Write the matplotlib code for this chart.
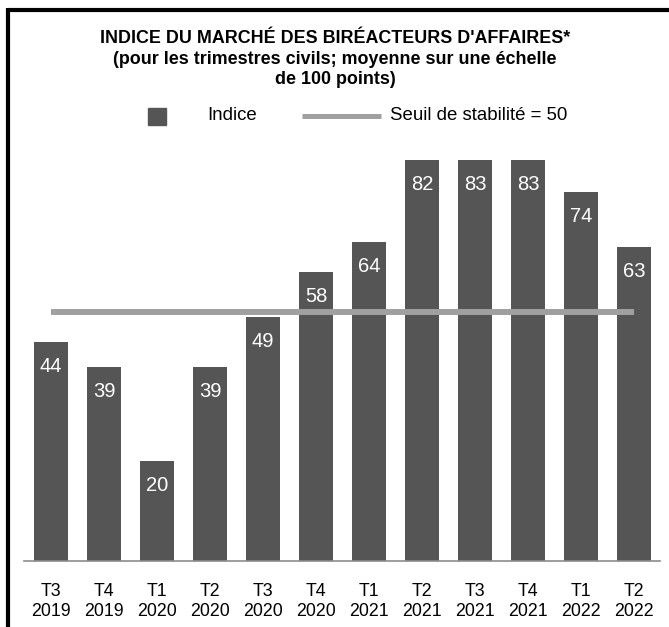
import matplotlib
matplotlib.use("Agg")
import matplotlib.pyplot as plt
from matplotlib.lines import Line2D
from matplotlib.patches import Rectangle

plt.rcParams["font.family"] = ["Liberation Sans", "DejaVu Sans"]

quarters = ["T3", "T4", "T1", "T2", "T3", "T4", "T1", "T2", "T3", "T4", "T1", "T2"]
years = ["2019", "2019", "2020", "2020", "2020", "2020", "2021", "2021", "2021", "2021", "2022", "2022"]
indice = [44, 39, 20, 39, 49, 58, 64, 82, 83, 83, 74, 63]
seuil = 50

W, H = 669, 627
BAR = "#555555"
LINE = "#a0a0a0"

fig = plt.figure(figsize=(W / 100, H / 100), dpi=100)


def px(x, y):
    # pixel (from top-left) -> figure fraction
    return x / W, 1 - y / H


ax = fig.add_axes([24 / W, 66 / H, 636 / W, 401 / H])
x = list(range(len(indice)))
ymax = 80.5
ax.bar(x, indice, width=0.64, color=BAR, zorder=2)
ax.plot([x[0], x[-1]], [seuil, seuil], color=LINE, lw=4.3,
        solid_capstyle="butt", zorder=3)
ax.set_xlim(-0.51, 11.49)
ax.set_ylim(0, ymax)

for xi, v in zip(x, indice):
    ax.annotate(str(v), (xi, min(v, ymax)), xytext=(0, -17.5),
                textcoords="offset points", ha="center", va="center",
                color="white", fontsize=14.5, zorder=4)

ax.set_xticks(x)
ax.set_xticklabels([f"{q}\n{y}" for q, y in zip(quarters, years)],
                   fontsize=12.8, linespacing=1.25)
ax.tick_params(axis="x", length=0, pad=16)
ax.set_yticks([])
for s in ["top", "left", "right"]:
    ax.spines[s].set_visible(False)
ax.spines["bottom"].set_color("#8c8c8c")
ax.spines["bottom"].set_linewidth(1.2)

# title
tx, ty = px(335, 59)
fig.text(tx, ty, "INDICE DU MARCHÉ DES BIRÉACTEURS D'AFFAIRES*\n"
         "(pour les trimestres civils; moyenne sur une échelle\n"
         "de 100 points)", ha="center", va="center", fontsize=12.9,
         fontweight="bold", linespacing=1.28)

# legend
rx, ry = px(148, 125)
fig.patches.append(Rectangle((rx, ry), 18 / W, 17 / H, color=BAR,
                             transform=fig.transFigure, figure=fig))
lx, ly = px(207, 116)
fig.text(lx, ly, "Indice", ha="left", va="center", fontsize=13.4)
a, b = px(302, 116)
c, _ = px(381, 116)
fig.lines.append(Line2D([a, c], [b, b], color=LINE, lw=3.6,
                        solid_capstyle="butt", transform=fig.transFigure))
sx, sy = px(390, 116)
fig.text(sx, sy, "Seuil de stabilité = 50", ha="left", va="center", fontsize=13.4)

# frame (top and left only)
x0, y0 = px(8, 10)
fig.lines.append(Line2D([x0, 1], [y0, y0], color="black", lw=3,
                        solid_capstyle="butt", transform=fig.transFigure))
fig.lines.append(Line2D([x0, x0], [0, y0 + 2 / H], color="black", lw=3,
                        solid_capstyle="butt", transform=fig.transFigure))

fig.savefig("out.png", dpi=100)
